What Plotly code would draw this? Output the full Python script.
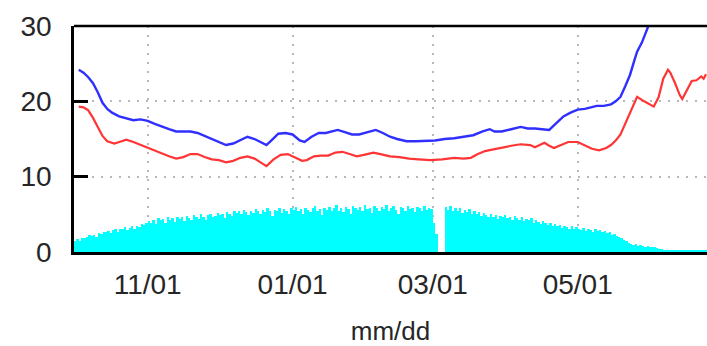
import pandas as pd
import plotly.graph_objects as go

# ---- data ----
bar_start = "2018-10-01 12:00"
bar_vals = [
    1.4, 1.7, 1.5, 1.9, 1.8, 2.0, 2.2, 2.1, 2.3, 2.0,
    2.5, 2.4, 2.7, 2.6, 2.8, 2.5, 2.9, 3.0, 2.7, 3.1,
    3.0, 3.3, 2.9, 3.2, 3.4, 3.1, 3.5, 3.3, 3.7, 3.6,
    3.8, 4.1, 3.9, 4.3, 3.7, 4.5, 4.2, 4.4, 3.9, 4.6,
    4.3, 4.5, 4.0, 4.7, 4.4, 4.6, 4.1, 4.8, 4.5, 4.3,
    4.9, 4.6, 4.4, 5.0, 4.7, 4.2, 4.9, 5.1, 4.6, 4.8,
    5.2, 4.9, 5.0, 4.5, 5.3, 5.1, 4.8, 5.5, 5.2, 5.4,
    5.0, 5.6, 5.3, 4.9, 5.5, 5.2, 5.7, 5.4, 5.0, 5.6,
    5.3, 5.8, 5.5, 4.8, 5.6, 5.4, 5.9, 5.2, 5.7, 5.5,
    5.1, 5.8, 5.6, 6.0, 5.4, 5.7, 5.0, 5.9, 5.6, 5.3,
    5.8, 6.1, 5.5, 5.7, 4.9, 5.9, 5.6, 6.0, 5.4, 5.8,
    6.2, 5.5, 5.9, 5.3, 6.0, 5.7, 5.1, 6.1, 5.8, 5.6,
    6.0, 5.4, 6.2, 5.7, 5.9, 5.2, 6.1, 5.8, 5.5, 6.0,
    5.7, 6.2, 5.4, 5.9, 6.1, 5.6, 5.0, 6.0, 5.8, 5.5,
    6.1, 5.7, 5.9, 5.3, 6.0, 5.8, 5.4, 6.1, 5.6, 5.9,
    5.7, 3.9, 2.4, 0.0, 0.0, 0.0, 6.0, 5.6, 6.1, 5.4,
    5.8, 5.5, 5.9, 5.2, 5.6, 5.3, 5.7, 5.0, 5.4, 5.1,
    5.3, 4.8, 5.2, 4.9, 4.6, 5.1, 4.7, 4.9, 4.4, 4.8,
    4.6, 4.9, 4.5, 4.7, 4.2, 4.8, 4.5, 4.3, 4.6, 4.1,
    4.4, 4.2, 4.5, 3.9, 4.2, 4.0, 3.7, 4.1, 3.8, 3.6,
    3.9, 3.5, 3.7, 3.4, 3.6, 3.2, 3.5, 3.3, 3.1, 3.4,
    3.0, 3.3, 3.1, 2.9, 3.2, 2.8, 3.0, 2.9, 2.7, 3.0,
    2.8, 2.9, 2.6, 2.8, 2.5, 2.7, 2.3, 2.4, 2.1, 2.0,
    1.8, 1.6, 1.4, 1.2, 1.1, 0.9, 1.0, 0.8, 0.9, 0.8,
    0.7, 0.8, 0.7, 0.6, 0.7, 0.5, 0.4, 0.4, 0.3, 0.3,
    0.2, 0.2, 0.2, 0.2, 0.2, 0.2, 0.2, 0.2, 0.2, 0.2,
    0.2, 0.2, 0.2, 0.2, 0.2, 0.2, 0.2,
]

blue_dates = [
    "2018-10-03", "2018-10-05", "2018-10-07", "2018-10-09", "2018-10-11", "2018-10-13",
    "2018-10-15", "2018-10-17", "2018-10-20", "2018-10-23", "2018-10-26", "2018-10-29",
    "2018-11-01", "2018-11-04", "2018-11-07", "2018-11-10", "2018-11-13", "2018-11-16",
    "2018-11-19", "2018-11-22", "2018-11-25", "2018-11-28", "2018-12-01", "2018-12-04",
    "2018-12-07", "2018-12-10", "2018-12-13", "2018-12-16", "2018-12-19", "2018-12-21",
    "2018-12-23", "2018-12-26", "2018-12-29", "2019-01-01", "2019-01-04", "2019-01-06",
    "2019-01-09", "2019-01-12", "2019-01-15", "2019-01-18", "2019-01-20", "2019-01-23",
    "2019-01-26", "2019-01-29", "2019-02-02", "2019-02-05", "2019-02-08", "2019-02-11",
    "2019-02-14", "2019-02-18", "2019-02-22", "2019-02-26", "2019-03-02", "2019-03-06",
    "2019-03-10", "2019-03-14", "2019-03-18", "2019-03-22", "2019-03-25", "2019-03-27",
    "2019-03-30", "2019-04-03", "2019-04-07", "2019-04-10", "2019-04-13", "2019-04-16",
    "2019-04-19", "2019-04-21", "2019-04-23", "2019-04-25", "2019-04-28", "2019-05-01",
    "2019-05-04", "2019-05-07", "2019-05-09", "2019-05-12", "2019-05-15", "2019-05-17",
    "2019-05-19", "2019-05-21", "2019-05-23", "2019-05-25", "2019-05-26", "2019-05-28",
    "2019-05-30", "2019-05-31",
]
blue_vals = [
    24.2, 23.8, 23.2, 22.4, 21.2, 19.8,
    19.0, 18.5, 18.0, 17.8, 17.5, 17.6,
    17.4, 17.0, 16.6, 16.3, 16.0, 16.0,
    16.0, 15.8, 15.4, 15.0, 14.6, 14.2,
    14.4, 14.9, 15.3, 15.0, 14.5, 14.2,
    14.8, 15.7, 15.8, 15.6, 14.8, 14.6,
    15.3, 15.8, 15.8, 16.0, 16.2, 15.9,
    15.6, 15.6, 16.0, 16.2, 15.8, 15.3,
    15.0, 14.7, 14.7, 14.8, 14.8, 15.0,
    15.1, 15.3, 15.5, 16.0, 16.3, 16.0,
    16.0, 16.3, 16.6, 16.4, 16.4, 16.3,
    16.2, 16.8, 17.4, 18.0, 18.5, 18.9,
    19.0, 19.2, 19.4, 19.4, 19.6, 20.0,
    20.6, 22.0, 23.5, 25.6, 26.6, 27.8,
    29.3, 30.2,
]

red_dates = [
    "2018-10-03", "2018-10-05", "2018-10-07", "2018-10-09", "2018-10-11", "2018-10-13",
    "2018-10-15", "2018-10-18", "2018-10-21", "2018-10-23", "2018-10-26", "2018-10-29",
    "2018-11-01", "2018-11-04", "2018-11-07", "2018-11-10", "2018-11-13", "2018-11-16",
    "2018-11-19", "2018-11-22", "2018-11-25", "2018-11-28", "2018-12-01", "2018-12-04",
    "2018-12-07", "2018-12-10", "2018-12-13", "2018-12-16", "2018-12-19", "2018-12-21",
    "2018-12-24", "2018-12-27", "2018-12-30", "2019-01-02", "2019-01-05", "2019-01-07",
    "2019-01-10", "2019-01-13", "2019-01-16", "2019-01-19", "2019-01-22", "2019-01-25",
    "2019-01-28", "2019-01-31", "2019-02-04", "2019-02-07", "2019-02-11", "2019-02-15",
    "2019-02-19", "2019-02-23", "2019-02-28", "2019-03-05", "2019-03-10", "2019-03-14",
    "2019-03-17", "2019-03-20", "2019-03-23", "2019-03-26", "2019-03-30", "2019-04-03",
    "2019-04-07", "2019-04-11", "2019-04-13", "2019-04-15", "2019-04-17", "2019-04-19",
    "2019-04-21", "2019-04-24", "2019-04-27", "2019-05-01", "2019-05-04", "2019-05-07",
    "2019-05-10", "2019-05-13", "2019-05-15", "2019-05-17", "2019-05-19", "2019-05-21",
    "2019-05-23", "2019-05-25", "2019-05-26", "2019-05-29", "2019-05-31", "2019-06-02",
    "2019-06-04", "2019-06-06", "2019-06-08", "2019-06-09", "2019-06-11", "2019-06-13",
    "2019-06-14", "2019-06-16", "2019-06-18", "2019-06-20", "2019-06-22", "2019-06-23",
    "2019-06-24",
]
red_vals = [
    19.3, 19.2, 18.8, 17.8, 16.6, 15.4,
    14.7, 14.4, 14.7, 14.9, 14.6, 14.2,
    13.9, 13.5, 13.1, 12.7, 12.4, 12.6,
    13.0, 13.0, 12.6, 12.3, 12.2, 11.9,
    12.1, 12.5, 12.7, 12.4, 11.8, 11.4,
    12.3, 12.9, 13.0, 12.6, 12.1, 12.2,
    12.7, 12.8, 12.8, 13.2, 13.3, 13.0,
    12.7, 12.9, 13.2, 13.0, 12.7, 12.6,
    12.4, 12.3, 12.2, 12.3, 12.5, 12.4,
    12.5, 13.0, 13.4, 13.6, 13.9, 14.1,
    14.3, 14.2, 13.9, 14.2, 14.5, 14.1,
    13.8, 14.2, 14.6, 14.6, 14.2, 13.7,
    13.5, 13.8, 14.2, 14.8, 15.6, 17.0,
    18.4, 20.0, 20.6, 20.0, 19.6, 19.3,
    20.5, 23.0, 24.2, 23.8, 22.4, 20.8,
    20.3, 21.5, 22.7, 22.8, 23.3, 23.0,
    23.6,
]

x_tick_vals = ["2018-11-01", "2019-01-01", "2019-03-01", "2019-05-01"]
x_tick_text = ["11/01", "01/01", "03/01", "05/01"]
y_tick_vals = [0, 10, 20, 30]
x_range = ["2018-10-01", "2019-06-24 10:00"]
y_range = [0, 30]
x_title = "mm/dd"

bar_dates = pd.date_range(bar_start, periods=len(bar_vals), freq="D")

FONT = "Liberation Sans, Arial, sans-serif"
TXT = "#262626"

fig = go.Figure()
fig.add_trace(go.Bar(
    x=bar_dates, y=bar_vals, width=86400000,
    marker=dict(color="#00ffff", line=dict(width=0)),
    showlegend=False,
))
fig.add_trace(go.Scatter(
    x=red_dates, y=red_vals, mode="lines",
    line=dict(color="#ff3535", width=2.2), showlegend=False,
))
fig.add_trace(go.Scatter(
    x=blue_dates, y=blue_vals, mode="lines",
    line=dict(color="#2f2fff", width=2.4), showlegend=False,
))

fig.update_layout(
    width=707, height=346,
    margin=dict(l=74, r=0, t=26, b=94),
    paper_bgcolor="white", plot_bgcolor="white",
    bargap=0,
    font=dict(family=FONT, color=TXT, size=27),
    xaxis=dict(
        type="date", range=x_range,
        tickvals=x_tick_vals, ticktext=x_tick_text,
        ticks="", showline=True, linecolor="black", linewidth=2.5,
        showgrid=True, gridcolor="#b8b8b8", gridwidth=1.5, griddash="2px,7px",
        zeroline=False, tickfont=dict(size=28, color=TXT),
        ticklabelstandoff=6,
        title=dict(text=x_title, font=dict(size=26, color=TXT), standoff=24),
    ),
    yaxis=dict(
        range=y_range, tickvals=y_tick_vals,
        ticks="inside", ticklen=14, tickwidth=2.5, tickcolor="black",
        showline=True, linecolor="black", linewidth=2.5,
        showgrid=True, gridcolor="#b8b8b8", gridwidth=1.5, griddash="2px,7px",
        zeroline=False, tickfont=dict(size=28, color=TXT),
        ticklabelstandoff=14,
    ),
    shapes=[dict(type="line", xref="paper", yref="paper", x0=0, x1=1, y0=1, y1=1,
                 line=dict(color="black", width=2.5), layer="above")],
)

fig.write_html("out.html")
